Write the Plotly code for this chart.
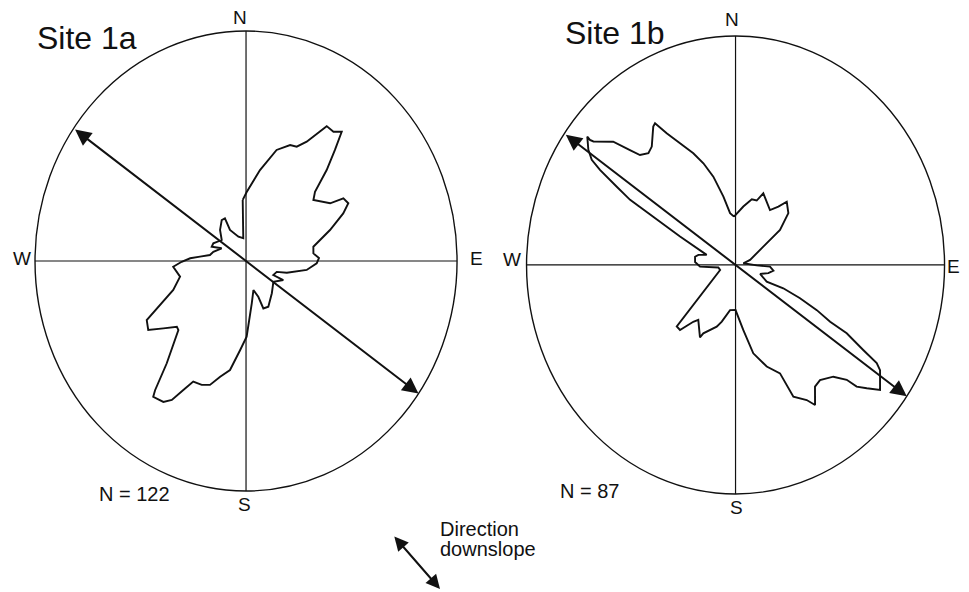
import numpy as np
import plotly.graph_objects as go

# ---------------- data ----------------
# Rose outlines: compass bearing (deg, clockwise from N) and radius (fraction of circle radius)
bearing_1a = [356.6, 0.6, 9.5, 16.7, 22.5, 25.8, 29.0, 33.1, 36.4, 38.9, 41.1, 44.0,
              47.4, 50.3, 57.8, 59.4, 62.6, 65.8, 71.3, 79.0, 84.1, 87.8, 91.7, 97.7,
              104.8, 108.0, 115.3, 115.1, 124.9, 138.9, 152.0, 158.3, 159.5, 164.5, 171.6, 179.5,
              184.1, 189.1, 193.7, 197.6, 201.3, 205.5, 207.9, 210.2, 212.6, 216.7, 217.5, 220.2,
              226.9, 228.9, 233.2, 237.1, 241.4, 244.0, 250.0, 257.7, 265.9, 269.4, 272.6, 275.0,
              278.7, 284.5, 295.6, 290.8, 296.4, 308.4, 317.7, 327.1, 331.7, 330.6, 341.2, 352.5]
radius_1a = [0.266, 0.300, 0.401, 0.504, 0.546, 0.552, 0.593, 0.700, 0.698, 0.722, 0.641, 0.550,
             0.444, 0.415, 0.471, 0.536, 0.546, 0.505, 0.420, 0.325, 0.321, 0.346, 0.335, 0.290,
             0.200, 0.153, 0.143, 0.195, 0.158, 0.186, 0.225, 0.222, 0.166, 0.131, 0.186, 0.329,
             0.388, 0.480, 0.518, 0.565, 0.578, 0.581, 0.635, 0.699, 0.727, 0.736, 0.708, 0.582,
             0.439, 0.435, 0.489, 0.552, 0.536, 0.471, 0.367, 0.320, 0.346, 0.305, 0.265, 0.219,
             0.173, 0.160, 0.128, 0.174, 0.173, 0.147, 0.183, 0.212, 0.211, 0.155, 0.112, 0.100]

bearing_1b = [358.0, 8.3, 15.2, 19.8, 23.0, 27.6, 34.5, 38.8, 41.6, 48.2, 54.3, 59.0,
              72.3, 79.0, 91.0, 92.5, 97.9, 102.9, 108.4, 116.1, 114.0, 115.2, 116.9, 118.7,
              119.3, 121.3, 122.4, 123.6, 128.3, 130.6, 132.5, 133.3, 136.2, 141.2, 144.4, 148.1,
              150.0, 154.3, 155.8, 161.4, 167.6, 172.6, 176.7, 180.0, 187.6, 194.9, 198.5, 207.3,
              208.3, 216.6, 219.2, 223.1, 226.3, 227.9, 230.9, 241.3, 253.4, 262.4, 267.6, 273.8,
              280.5, 283.9, 287.7, 295.0, 298.2, 299.4, 301.0, 302.6, 303.7, 305.5, 308.3, 308.1,
              308.4, 312.6, 314.8, 316.4, 319.5, 322.2, 326.9, 328.1, 330.2, 333.4, 337.5, 340.9,
              344.6, 349.0, 353.4]
radius_1b = [0.211, 0.258, 0.297, 0.299, 0.340, 0.315, 0.291, 0.327, 0.369, 0.339, 0.262, 0.155,
             0.073, 0.038, 0.101, 0.165, 0.183, 0.161, 0.124, 0.166, 0.250, 0.341, 0.436, 0.516,
             0.610, 0.715, 0.800, 0.830, 0.881, 0.827, 0.786, 0.731, 0.676, 0.645, 0.653, 0.720,
             0.681, 0.638, 0.519, 0.468, 0.395, 0.286, 0.226, 0.197, 0.199, 0.256, 0.284, 0.336,
             0.359, 0.299, 0.320, 0.389, 0.389, 0.315, 0.219, 0.121, 0.077, 0.083, 0.170, 0.194,
             0.197, 0.183, 0.145, 0.293, 0.446, 0.579, 0.663, 0.770, 0.827, 0.865, 0.904, 0.885,
             0.868, 0.795, 0.712, 0.663, 0.642, 0.654, 0.721, 0.729, 0.663, 0.594, 0.528, 0.470,
             0.400, 0.304, 0.228]

site_names = ["Site 1a", "Site 1b"]
sample_sizes = [122, 87]
downslope_bearings = [125.2, 125.0]
compass_labels = ["N", "S", "W", "E"]

# ---------------- figure ----------------
INK = "#111111"
FONT = "Liberation Sans, Arial, Helvetica, sans-serif"
# the page body adds an 8px margin, so the figure is sized to fill the rest of the window
W, H = 961, 584


def to_xy(bearing, radius):
    t = np.radians(np.asarray(bearing, dtype=float))
    r = np.asarray(radius, dtype=float)
    x = r * np.sin(t)
    y = r * np.cos(t)
    return np.append(x, x[0]), np.append(y, y[0])


fig = go.Figure()
for (b, r), ax_id in [((bearing_1a, radius_1a), ("x", "y")), ((bearing_1b, radius_1b), ("x2", "y2"))]:
    x, y = to_xy(b, r)
    fig.add_trace(go.Scatter(x=x, y=y, mode="lines", xaxis=ax_id[0], yaxis=ax_id[1],
                             line=dict(color=INK, width=1.9), hoverinfo="skip",
                             showlegend=False))

shapes = []
annotations = []
# label positions (in units of circle radius) for each panel
label_pos = [
    dict(N=(-0.028, 1.060), S=(-0.005, -1.060), W=(-1.063, 0.009), E=(1.090, 0.009),
         title=(-1.0, 0.968), n=(-0.708, -1.013)),
    dict(N=(-0.019, 1.070), S=(0.006, -1.057), W=(-1.071, 0.026), E=(1.045, -0.007),
         title=(-0.824, 1.012), n=(-0.849, -0.985)),
]
for i, (xr, yr) in enumerate([("x", "y"), ("x2", "y2")]):
    shapes.append(dict(type="circle", xref=xr, yref=yr, x0=-1, x1=1, y0=-1, y1=1,
                       line=dict(color=INK, width=1.4)))
    shapes.append(dict(type="line", xref=xr, yref=yr, x0=0, x1=0, y0=-1, y1=1,
                       line=dict(color=INK, width=1.2)))
    shapes.append(dict(type="line", xref=xr, yref=yr, x0=-1, x1=1, y0=0, y1=0,
                       line=dict(color=INK, width=1.2)))
    # downslope arrow, rim to rim
    b = downslope_bearings[i]
    hx, hy = np.sin(np.radians(b)), np.cos(np.radians(b))
    tx, ty = np.sin(np.radians(b + 180)), np.cos(np.radians(b + 180))
    annotations.append(dict(x=hx, y=hy, ax=tx, ay=ty, xref=xr, yref=yr, axref=xr, ayref=yr,
                            text="", showarrow=True, arrowside="end+start",
                            arrowhead=2, startarrowhead=2, arrowsize=1.6, startarrowsize=1.6,
                            arrowwidth=2, arrowcolor=INK))
    lp = label_pos[i]
    for lab in compass_labels:
        annotations.append(dict(x=lp[lab][0], y=lp[lab][1], xref=xr, yref=yr, text=lab,
                                showarrow=False, xanchor="center", yanchor="middle",
                                borderpad=0,
                                font=dict(family=FONT, size=19, color=INK)))
    annotations.append(dict(x=lp["title"][0], y=lp["title"][1], xref=xr, yref=yr,
                            text=site_names[i], showarrow=False, xanchor="left",
                            yanchor="middle", font=dict(family=FONT, size=32, color=INK)))
    annotations.append(dict(x=lp["n"][0], y=lp["n"][1], xref=xr, yref=yr,
                            text=f"N = {sample_sizes[i]}", showarrow=False, xanchor="left",
                            yanchor="middle", font=dict(family=FONT, size=20, color=INK)))

# legend arrow and text (page pixel minus the 8px body margin)
annotations.append(dict(x=(440 - 8) / W, y=1 - (589 - 8) / H, xref="paper", yref="paper",
                        ax=-47, ay=-54, text="", showarrow=True, arrowside="end+start",
                        arrowhead=2, startarrowhead=2, arrowsize=1.4, startarrowsize=1.4,
                        arrowwidth=2, arrowcolor=INK))
annotations.append(dict(x=(438 - 8) / W, y=1 - (529 - 8) / H, xref="paper", yref="paper",
                        text="Direction", showarrow=False, xanchor="left", yanchor="middle",
                        font=dict(family=FONT, size=20, color=INK)))
annotations.append(dict(x=(438 - 8) / W, y=1 - (549 - 8) / H, xref="paper", yref="paper",
                        text="downslope", showarrow=False, xanchor="left", yanchor="middle",
                        font=dict(family=FONT, size=20, color=INK)))

hidden = dict(visible=False, showgrid=False, zeroline=False, fixedrange=True)
fig.update_layout(
    width=W, height=H,
    margin=dict(l=0, r=0, t=0, b=0),
    paper_bgcolor="white", plot_bgcolor="white",
    showlegend=False,
    xaxis=dict(domain=[0, 0.5], range=[-1.128, 1.149], anchor="y", **hidden),
    yaxis=dict(domain=[0, 1], range=[-1.439, 1.100], anchor="x", **hidden),
    xaxis2=dict(domain=[0.5, 1], range=[-1.182, 1.117], anchor="y2", **hidden),
    yaxis2=dict(domain=[0, 1], range=[-1.428, 1.122], anchor="x2", **hidden),
    shapes=shapes,
    annotations=annotations,
)

fig.write_html("out.html")
